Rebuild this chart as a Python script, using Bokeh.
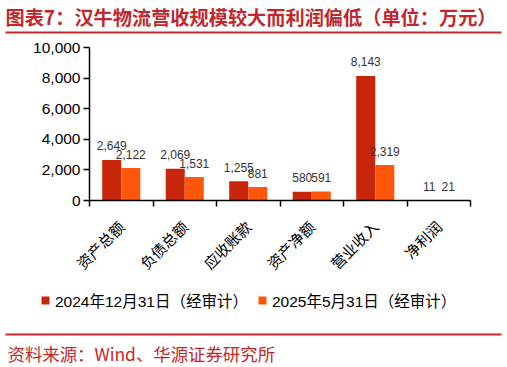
import math
import numpy as np
from bokeh.plotting import figure
from bokeh.models import (Range1d, FixedTicker, NumeralTickFormatter, ColumnDataSource,
                          Legend, LegendItem)
from bokeh.layouts import column
from bokeh.core.properties import value
from bokeh.embed import file_html
from bokeh.resources import INLINE

title_text = "图表7：汉牛物流营收规模较大而利润偏低（单位：万元）"
source_text = "资料来源：Wind、华源证券研究所"
categories = ["资产总额", "负债总额", "应收账款", "资产净额", "营业收入", "净利润"]
series_names = ["2024年12月31日（经审计）", "2025年5月31日（经审计）"]
values_2024 = [2649, 2069, 1255, 580, 8143, 11]
values_2025 = [2122, 1531, 881, 591, 2319, 21]
y_ticks = [0, 2000, 4000, 6000, 8000, 10000]

RED = "#C0282D"
C1 = "#C8260A"
C2 = "#FF560A"
LEG = "'Liberation Sans', 'Noto Sans CJK TC'"
CJK = "'Noto Sans CJK SC'"
W = 505
HT, HM, HF = 34, 251, 80


def blank(h):
    f = figure(width=W, height=h, x_range=Range1d(0, W), y_range=Range1d(0, h),
               output_backend="svg", toolbar_location=None, min_border=0,
               x_axis_location=None, y_axis_location=None, frame_align=False)
    f.outline_line_color = None
    f.grid.visible = False
    return f


# ---- title strip ----
t = blank(HT)
t.text(x=[5], y=[HT - 16], text=[title_text], text_font=value(CJK), text_font_size="19.2px",
       text_font_style="bold", text_color=RED, text_baseline="middle", text_align="left")
t.segment(x0=[5], y0=[2], x1=[501], y1=[2], line_color=RED, line_width=2)

# ---- main chart ----
n = len(categories)
centers = [i + 0.5 for i in range(n)]
bw = 0.3
src = ColumnDataSource(dict(
    x1=[c - bw / 2 for c in centers], x2=[c + bw / 2 for c in centers],
    v1=values_2024, v2=values_2025,
    l1=[f"{v:,}" for v in values_2024], l2=[f"{v:,}" for v in values_2025]))

p = figure(width=W, height=HM, x_range=Range1d(0, n), y_range=Range1d(0, 10000),
           output_backend="svg", toolbar_location=None, frame_align=False,
           min_border_left=89, min_border_right=W - 470, min_border_top=13,
           min_border_bottom=HM - 166)
p.outline_line_color = None
p.grid.visible = False

p.vbar(x="x1", top="v1", width=bw, source=src, fill_color=C1, line_color=None)
p.vbar(x="x2", top="v2", width=bw, source=src, fill_color=C2, line_color=None)

for xs, ys, ls in (("x1", "v1", "l1"), ("x2", "v2", "l2")):
    p.text(x=xs, y=ys, text=ls, source=src, text_font=value("Liberation Sans"),
           text_font_size="12px", text_color="#333333", text_align="center",
           text_baseline="alphabetic", y_offset=-14)

xa = p.xaxis[0]
xa.ticker = FixedTicker(ticks=centers, minor_ticks=list(range(n + 1)))
xa.major_label_overrides = {c: cat for c, cat in zip(centers, categories)}
xa.major_tick_line_color = None
xa.major_tick_in = 0
xa.major_tick_out = 4
xa.minor_tick_in = 0
xa.minor_tick_out = 6
xa.minor_tick_line_color = "black"
xa.minor_tick_line_width = 1.5
xa.axis_line_width = 1.5
xa.axis_line_color = "black"
xa.major_label_orientation = math.pi / 4
xa.major_label_text_font = CJK
xa.major_label_text_font_size = "15px"
xa.major_label_text_color = "black"
xa.major_label_standoff = 17

ya = p.yaxis[0]
ya.ticker = FixedTicker(ticks=y_ticks, minor_ticks=[])
ya.formatter = NumeralTickFormatter(format="0,0")
ya.major_tick_in = 0
ya.major_tick_out = 6
ya.major_tick_line_width = 1.5
ya.major_tick_line_color = "black"
ya.axis_line_width = 1.5
ya.axis_line_color = "black"
ya.major_label_text_font = "Liberation Sans"
ya.major_label_text_font_size = "15.5px"
ya.major_label_text_color = "black"
ya.major_label_standoff = 3

# ---- footer with legend and source ----
f = blank(HF)
nan = np.array([np.nan])
g1 = f.vbar(x=nan, top=nan, width=1, fill_color=C1, line_color=None)
g2 = f.vbar(x=nan, top=nan, width=1, fill_color=C2, line_color=None)
legend = Legend(items=[LegendItem(label=series_names[0], renderers=[g1]),
                       LegendItem(label=series_names[1], renderers=[g2])],
                orientation="horizontal", location=(40, 54),
                glyph_width=10, glyph_height=10, label_standoff=5, spacing=9,
                padding=0, margin=0, border_line_color=None, background_fill_alpha=0,
                label_text_font=LEG, label_text_font_size="15.5px", label_text_color="black",
                label_height=14)
f.add_layout(legend, "center")
f.segment(x0=[5], y0=[31], x1=[501], y1=[31], line_color=RED, line_width=2)
f.text(x=[7], y=[12], text=[source_text], text_font=value(CJK), text_font_size="17.4px",
       text_color=RED, text_baseline="middle", text_align="left")

layout = column(t, p, f, spacing=0)
open("out.html", "w").write(file_html(layout, INLINE))
